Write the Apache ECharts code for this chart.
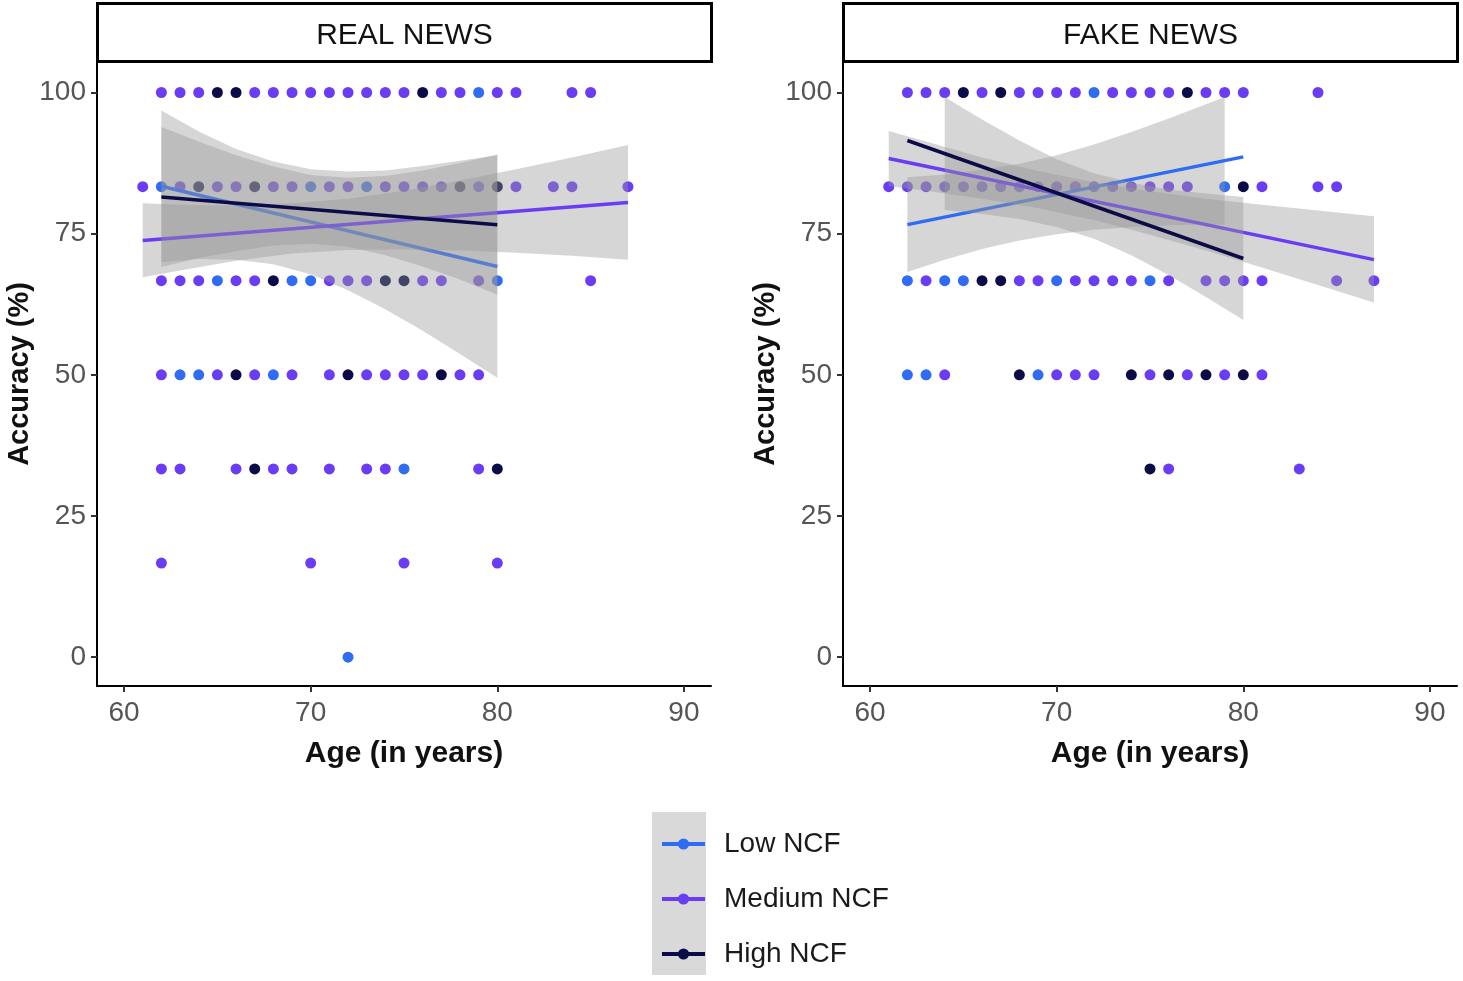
<!DOCTYPE html>
<html><head><meta charset="utf-8">
<script src="https://cdn.jsdelivr.net/npm/echarts@6/dist/echarts.min.js"></script>
<style>html,body{margin:0;padding:0;background:#fff}#c{width:1463px;height:981px}</style>
</head><body><div id="c"></div>
<script>
// accuracy levels (6 items per condition)
const accLevels = [100, 83.33, 66.67, 50, 33.33, 16.67, 0];
const xTicks = [60, 70, 80, 90];
const yTicks = [0, 25, 50, 75, 100];
const groups = ['Low NCF', 'Medium NCF', 'High NCF'];
const panels = ['REAL NEWS', 'FAKE NEWS'];

// ages of participants per accuracy level (same order as accLevels)
const realLow  = [[79],[62,70,73],[65,69,70,80],[63,64,68],[75],[],[72]];
const realMed  = [[62,63,64,67,68,69,70,71,72,73,74,75,77,78,80,81,84,85],
                  [61,63,65,66,68,69,71,72,74,75,76,77,79,81,83,84,87],
                  [62,63,64,66,67,71,72,73,76,77,79,85],
                  [62,65,67,69,71,73,74,75,76,78,79],
                  [62,63,66,68,69,71,73,74,79],
                  [62,70,75,80],[]];
const realHigh = [[65,66,76],[64,67,78,80],[68,74,75],[66,72,77],[67,80],[],[]];

const fakeLow  = [[72],[79],[62,64,65,70,75],[62,63,69],[],[],[]];
const fakeMed  = [[62,63,64,66,68,69,70,71,73,74,75,76,78,79,80,84],
                  [61,62,63,64,65,66,67,68,69,70,71,72,73,74,75,76,77,81,84,85],
                  [63,68,69,71,72,73,74,76,78,79,80,81,85,87],
                  [64,70,71,72,75,77,79,81],
                  [76,83],[],[]];
const fakeHigh = [[65,67,77],[80],[66,67],[68,74,76,78,80],[75],[],[]];

// linear fits: [age, accuracy] at both ends
const realLowFit  = [[62, 83.4], [80, 69.2]];
const realMedFit  = [[61, 73.8], [87, 80.5]];
const realHighFit = [[62, 81.5], [80, 76.6]];
const fakeLowFit  = [[62, 76.6], [80, 88.6]];
const fakeMedFit  = [[61, 88.3], [87, 70.4]];
const fakeHighFit = [[62, 91.5], [80, 70.6]];

// confidence bands
const realLowBandAge = [62,64,66,68,70,72,74,76,78,80];
const realLowBandHi  = [96.8,93.1,90.0,87.8,86.4,86.0,86.2,87.0,87.9,88.9];
const realLowBandLo  = [70.0,70.5,70.4,69.6,67.8,65.0,61.6,57.8,53.7,49.5];
const realMedBandAge = [61,63,66,69,72,75,78,81,84,87];
const realMedBandHi  = [80.4,80.1,80.0,80.4,81.2,82.6,84.4,86.4,88.5,90.7];
const realMedBandLo  = [67.3,68.5,70.2,71.5,72.1,72.2,72.0,71.6,71.1,70.4];
const realHighBandAge = [62,64,66,68,70,72,74,76,78,80];
const realHighBandHi  = [93.9,91.3,88.9,86.9,85.4,84.9,85.2,86.2,87.5,89.0];
const realHighBandLo  = [69.1,70.7,71.9,72.9,73.2,72.7,71.2,69.2,66.9,64.2];

const fakeLowBandAge = [62,64,66,68,70,72,74,76,78,79];
const fakeLowBandHi  = [85.0,85.5,86.3,87.4,88.9,90.8,93.0,95.4,97.9,99.2];
const fakeLowBandLo  = [68.2,70.4,72.3,73.8,74.9,75.7,76.2,76.5,76.6,76.6];
const fakeMedBandAge = [61,63,66,69,72,75,78,81,84,87];
const fakeMedBandHi  = [93.2,91.3,88.5,86.1,84.1,82.5,81.2,80.1,79.1,78.1];
const fakeMedBandLo  = [83.4,82.6,81.2,79.5,77.4,74.8,72.0,69.0,65.9,62.8];
const fakeHighBandAge = [64,66,68,70,72,74,76,78,80];
const fakeHighBandHi  = [99.2,95.2,91.5,88.2,85.7,84.0,82.8,82.1,81.5];
const fakeHighBandLo  = [79.2,78.5,77.6,76.2,74.1,71.2,67.7,63.8,59.7];

const colors = ['#2f6cf2', '#6a3cf4', '#0b0b48'];
const FONT = 'Liberation Sans, Arial, sans-serif';

function pts(byLevel) {
  const out = [];
  byLevel.forEach((ages, i) => ages.forEach(a => out.push([a, accLevels[i]])));
  return out;
}
function scatter(byLevel, gi, pi) {
  return { type: 'scatter', name: groups[gi] + ' pts', xAxisIndex: pi, yAxisIndex: pi,
    data: pts(byLevel), symbolSize: 11, z: 2, silent: true,
    itemStyle: { color: colors[gi], opacity: 1 } };
}
function band(ages, hi, lo, pi, z) {
  return { type: 'custom', xAxisIndex: pi, yAxisIndex: pi, z: z, silent: true, clip: true,
    data: ages.map((a, i) => [a, hi[i], lo[i]]),
    renderItem: (params, api) => {
      if (params.dataIndex !== 0) return null;
      const p = [];
      for (let i = 0; i < ages.length; i++) p.push(api.coord([ages[i], hi[i]]));
      for (let i = ages.length - 1; i >= 0; i--) p.push(api.coord([ages[i], lo[i]]));
      return { type: 'polygon', shape: { points: p }, style: { fill: 'rgba(153,153,153,0.4)' } };
    } };
}
function fit(data, gi, pi, z) {
  return { type: 'line', name: groups[gi], xAxisIndex: pi, yAxisIndex: pi, data: data, z: z,
    showSymbol: false, symbol: 'circle', symbolSize: 10, silent: true,
    lineStyle: { color: colors[gi], width: 3.5 }, itemStyle: { color: colors[gi] } };
}

const gridLefts = [97, 843];
const grids = gridLefts.map(l => ({ left: l, top: 62, width: 614, height: 624 }));
const xAxes = [0, 1].map(i => ({
  type: 'value', gridIndex: i, min: 58.55, max: 91.45,
  name: 'Age (in years)', nameLocation: 'middle', nameGap: 53,
  nameTextStyle: { fontFamily: FONT, fontSize: 30, fontWeight: 'bold', color: '#111' },
  axisLine: { show: true, onZero: false, lineStyle: { color: '#000', width: 2 } },
  axisTick: { show: true, length: 6, customValues: xTicks, lineStyle: { color: '#333', width: 2 } },
  axisLabel: { customValues: xTicks, margin: 13, fontFamily: FONT, fontSize: 28, color: '#555' },
  splitLine: { show: false }
}));
const yAxes = [0, 1].map(i => ({
  type: 'value', gridIndex: i, min: -5.1, max: 105.4,
  name: 'Accuracy (%)', nameLocation: 'middle', nameGap: 63, nameRotate: 90,
  nameTextStyle: { fontFamily: FONT, fontSize: 29, fontWeight: 'bold', color: '#111' },
  axisLine: { show: true, onZero: false, lineStyle: { color: '#000', width: 2 } },
  axisTick: { show: true, length: 6, customValues: yTicks, lineStyle: { color: '#333', width: 2 } },
  axisLabel: { customValues: yTicks, margin: 11, fontFamily: FONT, fontSize: 28, color: '#555' },
  splitLine: { show: false }
}));

const series = [
  fit(realLowFit, 0, 0, 4), fit(realMedFit, 1, 0, 6), fit(realHighFit, 2, 0, 8),
  fit(fakeLowFit, 0, 1, 4), fit(fakeMedFit, 1, 1, 6), fit(fakeHighFit, 2, 1, 8),
  scatter(realLow, 0, 0), scatter(realMed, 1, 0), scatter(realHigh, 2, 0),
  scatter(fakeLow, 0, 1), scatter(fakeMed, 1, 1), scatter(fakeHigh, 2, 1),
  band(realLowBandAge, realLowBandHi, realLowBandLo, 0, 3),
  band(realMedBandAge, realMedBandHi, realMedBandLo, 0, 5),
  band(realHighBandAge, realHighBandHi, realHighBandLo, 0, 7),
  band(fakeLowBandAge, fakeLowBandHi, fakeLowBandLo, 1, 3),
  band(fakeMedBandAge, fakeMedBandHi, fakeMedBandLo, 1, 5),
  band(fakeHighBandAge, fakeHighBandHi, fakeHighBandLo, 1, 7)
];

const strips = gridLefts.map((l, i) => ({
  type: 'group', left: l - 1, top: 2, children: [
    { type: 'rect', shape: { x: 0, y: 0, width: 614, height: 58 },
      style: { fill: '#fff', stroke: '#000', lineWidth: 3 } },
    { type: 'text', x: 307, y: 32, style: { text: panels[i], font: '30px ' + FONT,
      fill: '#111', align: 'center', verticalAlign: 'middle' } }
  ] }));

const chart = echarts.init(document.getElementById('c'), null, { renderer: 'canvas' });
chart.setOption({
  animation: false,
  backgroundColor: '#fff',
  grid: grids, xAxis: xAxes, yAxis: yAxes, series: series,
  legend: {
    data: groups, orient: 'vertical', left: 655, top: 825,
    itemWidth: 43, itemHeight: 14, itemGap: 27, selectedMode: false,
    lineStyle: { width: 4 },
    textStyle: { fontFamily: FONT, fontSize: 28, color: '#1a1a1a', padding: [0, 0, 0, 14] }
  },
  graphic: [
    { type: 'rect', left: 652, top: 812, z: 0, shape: { width: 54, height: 163 }, style: { fill: '#d9d9d9' } }
  ].concat(strips)
});
</script></body></html>
